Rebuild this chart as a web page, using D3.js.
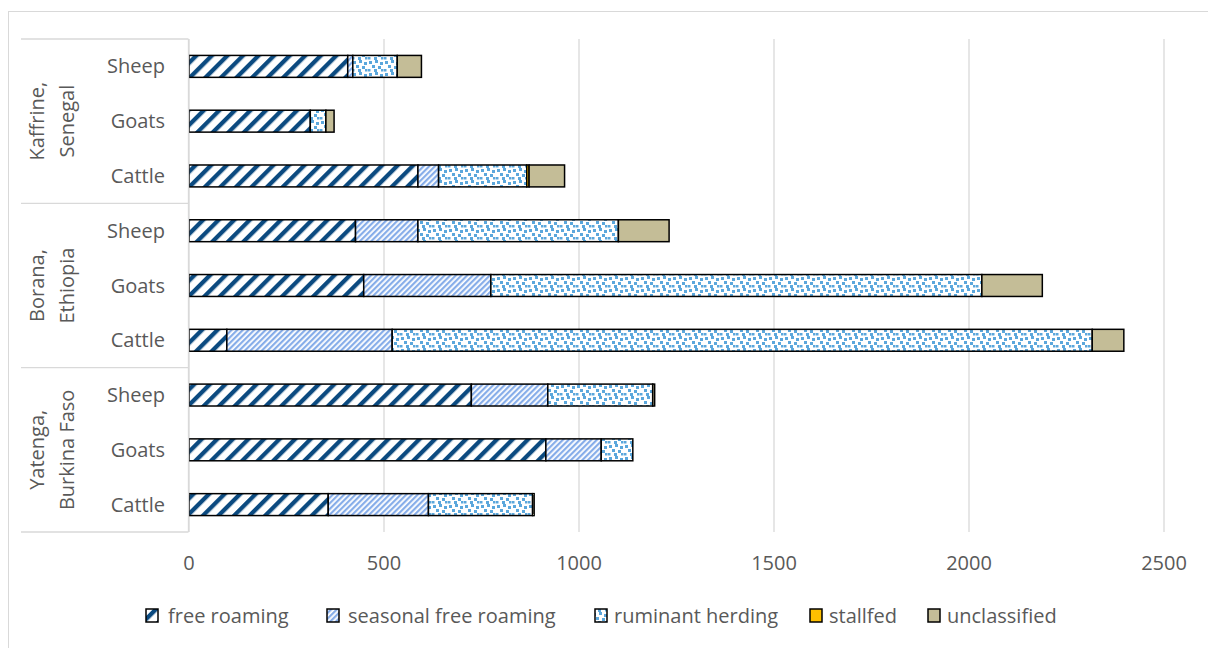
<!DOCTYPE html>
<html>
<head>
<meta charset="utf-8">
<script src="https://cdn.jsdelivr.net/npm/d3@7"></script>
<style>
  body { margin: 0; background: #fff; }
  text { font-family: "Open Sans", "Noto Sans", sans-serif; fill: #595959; }
</style>
</head>
<body>
<div id="chart"></div>
<script>
// data (head counts)
const regions = ["Kaffrine,\nSenegal", "Borana,\nEthiopia", "Yatenga,\nBurkina Faso"];
const animals = ["Sheep", "Goats", "Cattle"];
const seriesNames = ["free roaming", "seasonal free roaming", "ruminant herding", "stallfed", "unclassified"];

// one value per row: Kaffrine S/G/C, Borana S/G/C, Yatenga S/G/C
const freeRoaming     = [407, 311, 587, 427, 448, 97, 724, 915, 357];
const seasonalFree    = [13, 0, 53, 160, 326, 424, 196, 142, 257];
const ruminantHerding = [114, 40, 226, 514, 1259, 1795, 269, 81, 267];
const stallfed        = [0, 0, 6, 0, 0, 0, 0, 0, 0];
const unclassified    = [62, 21, 91, 130, 155, 81, 5, 0, 4];

const xTicks = [0, 500, 1000, 1500, 2000, 2500];

const W = 1208, H = 648;
const svg = d3.select("#chart").append("svg")
  .attr("width", W)
  .attr("height", H);

// patterns
const defs = svg.append("defs");

const p1 = defs.append("pattern")
  .attr("id", "pFree")
  .attr("patternUnits", "userSpaceOnUse")
  .attr("width", 11).attr("height", 11)
  .attr("patternTransform", "rotate(45)");
p1.append("rect").attr("width", 11).attr("height", 11).attr("fill", "#fff");
p1.append("rect").attr("width", 4.3).attr("height", 11).attr("fill", "#0b4a80");

const p2 = defs.append("pattern")
  .attr("id", "pSeasonal")
  .attr("patternUnits", "userSpaceOnUse")
  .attr("width", 4).attr("height", 4)
  .attr("patternTransform", "rotate(45)");
p2.append("rect").attr("width", 4).attr("height", 4).attr("fill", "#fff");
p2.append("rect").attr("width", 2.2).attr("height", 4).attr("fill", "#86ade9");

const p3 = defs.append("pattern")
  .attr("id", "pRuminant")
  .attr("patternUnits", "userSpaceOnUse")
  .attr("width", 16).attr("height", 12);
p3.append("rect").attr("width", 16).attr("height", 12).attr("fill", "#fff");
[[1, 1, 3], [7, 0, 3], [12, 2, 3], [4, 5, 3], [10, 6, 3], [0, 9, 2.5], [6, 9, 3], [13, 9, 2.5]]
  .forEach(s => p3.append("rect")
    .attr("x", s[0]).attr("y", s[1])
    .attr("width", s[2]).attr("height", s[2])
    .attr("fill", "#5ba7dc"));

const fills = ["url(#pFree)", "url(#pSeasonal)", "url(#pRuminant)", "#ffc000", "#c4bd97"];

// outer frame
svg.append("rect")
  .attr("x", 8.5).attr("y", 11.5)
  .attr("width", W + 20).attr("height", H + 20)
  .attr("fill", "none")
  .attr("stroke", "#d9d9d9");

const x = d3.scaleLinear().domain([0, 2500]).range([189, 1164]);

const rows = [];
regions.forEach((r, i) => animals.forEach(a => rows.push(r + "|" + a)));

const y = d3.scaleBand()
  .domain(rows)
  .range([39, 532])
  .paddingInner(0.6)
  .paddingOuter(0.3);

// gridlines
svg.append("g")
  .selectAll("line")
  .data(xTicks)
  .enter()
  .append("line")
  .attr("x1", d => x(d)).attr("x2", d => x(d))
  .attr("y1", 39).attr("y2", 532)
  .attr("stroke", "#d9d9d9")
  .attr("stroke-width", 1.3);

// tick labels
svg.append("g")
  .selectAll("text")
  .data(xTicks)
  .enter()
  .append("text")
  .attr("x", d => x(d))
  .attr("y", 570)
  .attr("font-size", "20px")
  .style("text-anchor", "middle")
  .text(d => d);

// stacked bars
const table = rows.map((k, i) => ({
  key: k,
  "free roaming": freeRoaming[i],
  "seasonal free roaming": seasonalFree[i],
  "ruminant herding": ruminantHerding[i],
  "stallfed": stallfed[i],
  "unclassified": unclassified[i]
}));
const stacked = d3.stack().keys(seriesNames)(table);

svg.append("g")
  .selectAll("g")
  .data(stacked)
  .enter()
  .append("g")
  .attr("fill", (d, i) => fills[i])
  .selectAll("rect")
  .data(d => d.filter(v => v[1] - v[0] > 0))
  .enter()
  .append("rect")
  .attr("x", d => x(d[0]))
  .attr("y", d => y(d.data.key))
  .attr("width", d => x(d[1]) - x(d[0]))
  .attr("height", y.bandwidth())
  .attr("stroke", "#000")
  .attr("stroke-width", 1.5);

// category axis: boxes, separators
const axisG = svg.append("g");
axisG.append("line")
  .attr("x1", 188.5).attr("x2", 188.5)
  .attr("y1", 39).attr("y2", 532)
  .attr("stroke", "#d9d9d9").attr("stroke-width", 1.3);

const groupH = (532 - 39) / regions.length;
d3.range(regions.length + 1).forEach(i => {
  axisG.append("line")
    .attr("x1", 21).attr("x2", 188.5)
    .attr("y1", 39 + i * groupH).attr("y2", 39 + i * groupH)
    .attr("stroke", "#d9d9d9").attr("stroke-width", 1.3);
});

axisG.selectAll("text.cat")
  .data(rows)
  .enter()
  .append("text")
  .attr("class", "cat")
  .attr("x", 165)
  .attr("y", d => y(d) + y.bandwidth() / 2 + 7)
  .attr("font-size", "20px")
  .style("text-anchor", "end")
  .text(d => d.split("|")[1]);

regions.forEach((r, i) => {
  const cy = 39 + (i + 0.5) * groupH;
  const lines = r.split("\n");
  const t = axisG.append("text")
    .attr("transform", `translate(52,${cy}) rotate(-90)`)
    .attr("font-size", "20px")
    .style("text-anchor", "middle");
  lines.forEach((l, j) => {
    t.append("tspan")
      .attr("x", 0)
      .attr("y", -8 + j * 30)
      .text(l);
  });
});

// legend
const legendX = [146, 327, 595, 810, 928];
const legendTextX = [168, 348, 614, 829, 947];
const legend = svg.append("g");
seriesNames.forEach((s, i) => {
  legend.append("rect")
    .attr("x", legendX[i]).attr("y", 609)
    .attr("width", 12).attr("height", 13)
    .attr("fill", fills[i])
    .attr("stroke", "#000")
    .attr("stroke-width", 1.5);
  legend.append("text")
    .attr("x", legendTextX[i])
    .attr("y", 623)
    .attr("font-size", "20px")
    .text(s);
});
</script>
</body>
</html>
